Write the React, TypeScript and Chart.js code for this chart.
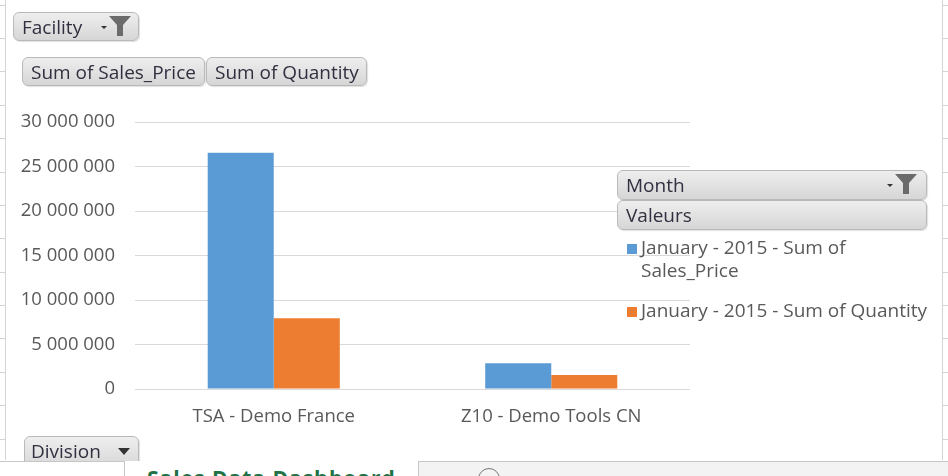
import React, { useEffect, useRef } from "react";
import { Chart, registerables } from "chart.js";

Chart.register(...registerables);

const categories = ["TSA - Demo France", "Z10 - Demo Tools CN"];
const salesPrice = [26550000, 2890000];
const quantity = [7940000, 1570000];
const seriesLabels = ["January - 2015 - Sum of Sales_Price", "January - 2015 - Sum of Quantity"];
const seriesColors = ["#5B9BD5", "#ED7D31"];
const yMin = 0;
const yMax = 30000000;
const yStep = 5000000;

const FONT = "'Open Sans', 'Noto Sans', sans-serif";

const fmt = (v: number) => String(Math.round(v)).replace(/\B(?=(\d{3})+(?!\d))/g, " ");

const btn: React.CSSProperties = {
  position: "absolute",
  boxSizing: "border-box",
  background: "linear-gradient(#eeeeee, #d6d6d6)",
  border: "1px solid #b9b9b9",
  borderRadius: 6,
  boxShadow: "1px 1px 1px rgba(0,0,0,0.12)",
  fontFamily: FONT,
  fontSize: 19,
  color: "#303040",
  display: "flex",
  alignItems: "center",
  paddingLeft: 8,
  whiteSpace: "nowrap",
  overflow: "hidden",
};

function Funnel({ x, y }: { x: number; y: number }) {
  return (
    <svg style={{ position: "absolute", left: x, top: y }} width={34} height={24} viewBox="0 0 34 24">
      <polygon points="3,12 9,12 6,15" fill="#333" />
      <polygon points="11,2 33,2 25,11 25,22 19,22 19,11" fill="#6b6b6b" />
    </svg>
  );
}

export default function App() {
  const ref = useRef<HTMLCanvasElement | null>(null);

  useEffect(() => {
    if (!ref.current) return;
    const chart = new Chart(ref.current, {
      type: "bar",
      data: {
        labels: categories,
        datasets: [
          {
            label: seriesLabels[0],
            data: salesPrice,
            backgroundColor: seriesColors[0],
            borderWidth: 0,
            barPercentage: 1,
            categoryPercentage: 0.476,
          },
          {
            label: seriesLabels[1],
            data: quantity,
            backgroundColor: seriesColors[1],
            borderWidth: 0,
            barPercentage: 1,
            categoryPercentage: 0.476,
          },
        ],
      },
      options: {
        responsive: false,
        animation: false,
        maintainAspectRatio: false,
        layout: { padding: { left: 0, right: 258, top: 122, bottom: 0 } },
        plugins: { legend: { display: false }, tooltip: { enabled: false } },
        scales: {
          x: {
            grid: { display: false },
            border: { display: false },
            ticks: {
              color: "#595959",
              font: { family: FONT, size: 18.5 },
              padding: 9,
            },
            afterFit: (s: any) => {
              s.height = 87;
            },
          },
          y: {
            min: yMin,
            max: yMax,
            grid: { color: "#d9d9d9", lineWidth: 1, drawTicks: false },
            border: { display: false },
            ticks: {
              stepSize: yStep,
              color: "#595959",
              font: { family: FONT, size: 18.5 },
              padding: 20,
              callback: (v: any) => fmt(Number(v)),
            },
            afterFit: (s: any) => {
              s.width = 135;
            },
          },
        },
      },
    });
    return () => chart.destroy();
  }, []);

  const rowLines: number[] = [];
  for (let y = 4.5; y < 460; y += 33.4) rowLines.push(Math.round(y));

  return (
    <div style={{ position: "absolute", left: 0, top: 0, width: 948, height: 476, overflow: "hidden", background: "#fff" }}>
      {/* excel sheet edges */}
      <div style={{ position: "absolute", left: 5, top: 0, width: 1, height: 460, background: "#d4d4d4" }} />
      <div style={{ position: "absolute", left: 942, top: 0, width: 1, height: 460, background: "#d4d4d4" }} />
      {rowLines.map((y) => (
        <React.Fragment key={y}>
          <div style={{ position: "absolute", left: 0, top: y, width: 5, height: 1, background: "#d4d4d4" }} />
          <div style={{ position: "absolute", left: 943, top: y, width: 5, height: 1, background: "#d4d4d4" }} />
        </React.Fragment>
      ))}

      <canvas ref={ref} width={948} height={476} style={{ position: "absolute", left: 0, top: 0 }} />

      {/* field buttons */}
      <div style={{ ...btn, left: 13, top: 12, width: 126, height: 29 }}>Facility</div>
      <Funnel x={98} y={14} />
      <div style={{ ...btn, left: 22, top: 57, width: 183, height: 29 }}>Sum of Sales_Price</div>
      <div style={{ ...btn, left: 206, top: 57, width: 161, height: 29 }}>Sum of Quantity</div>

      <div style={{ ...btn, left: 617, top: 170, width: 310, height: 30 }}>Month</div>
      <Funnel x={884} y={172} />
      <div style={{ ...btn, left: 617, top: 200, width: 310, height: 30 }}>Valeurs</div>

      {/* legend */}
      {seriesLabels.map((lab, i) => (
        <div
          key={lab}
          style={{
            position: "absolute",
            left: 627,
            top: i === 0 ? 236 : 299,
            width: 310,
            fontFamily: FONT,
            fontSize: 19,
            lineHeight: "23px",
            color: "#595959",
            display: "flex",
            alignItems: "flex-start",
          }}
        >
          <div style={{ width: 10, height: 10, background: seriesColors[i], marginTop: 8, marginRight: 4, flex: "none" }} />
          <div style={{ width: 292 }}>{lab}</div>
        </div>
      ))}

      {/* division button (cut by tab bar) */}
      <div style={{ ...btn, left: 24, top: 436, width: 115, height: 34, alignItems: "flex-start", paddingTop: 1, paddingLeft: 6, borderRadius: "6px 6px 0 0" }}>
        Division
        <svg style={{ position: "absolute", left: 93, top: 11 }} width={12} height={8} viewBox="0 0 12 8">
          <polygon points="0,0 12,0 6,7" fill="#333" />
        </svg>
      </div>

      {/* sheet tab bar */}
      <div style={{ position: "absolute", left: 0, top: 461, width: 948, height: 15, background: "#f3f3f3", borderTop: "1px solid #c6c6c6" }} />
      <div style={{ position: "absolute", left: 0, top: 462, width: 124, height: 14, background: "#fff" }} />
      <div
        style={{
          position: "absolute",
          left: 124,
          top: 461,
          width: 293,
          height: 15,
          background: "#fff",
          borderLeft: "1px solid #c6c6c6",
          borderRight: "1px solid #c6c6c6",
          overflow: "hidden",
        }}
      >
        <div style={{ position: "absolute", left: 22, top: 3, fontFamily: FONT, fontSize: 21, letterSpacing: 1, fontWeight: 700, color: "#217346", whiteSpace: "nowrap" }}>
          Sales Data Dashboard
        </div>
      </div>
      <div style={{ position: "absolute", left: 478, top: 468, width: 22, height: 22, borderRadius: "50%", border: "1px solid #777", boxSizing: "border-box" }} />
    </div>
  );
}
